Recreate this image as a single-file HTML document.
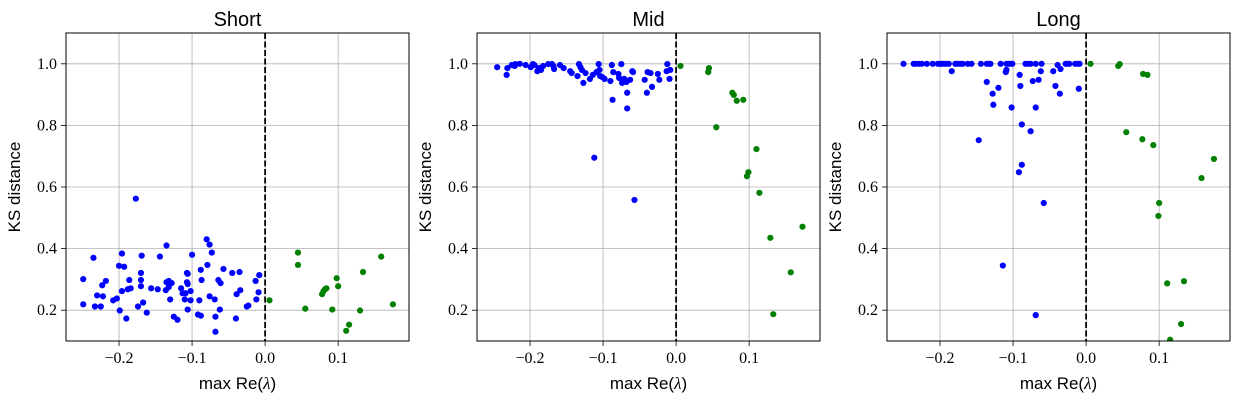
<!DOCTYPE html>
<html><head><meta charset="utf-8"><style>
body{margin:0;background:#fff;width:1239px;height:403px;overflow:hidden}
svg text{fill:#000}
</style></head><body>
<svg id="chart" width="1239" height="403" xmlns="http://www.w3.org/2000/svg"></svg>
<script>
const panelTitles = ["Short","Mid","Long"];
const xTicks = [-0.2,-0.1,0.0,0.1];
const xTickLabels = ["\u22120.2","\u22120.1","0.0","0.1"];
const yTicks = [0.2,0.4,0.6,0.8,1.0];
const yTickLabels = ["0.2","0.4","0.6","0.8","1.0"];

const shortBlueX = [-0.249,-0.249,-0.235,-0.233,-0.230,-0.225,-0.223,-0.222,-0.218,-0.208,-0.203,-0.200,-0.199,-0.196,-0.196,-0.193,-0.190,-0.188,-0.186,-0.184,-0.177,-0.174,-0.170,-0.170,-0.170,-0.169,-0.167,-0.162,-0.156,-0.147,-0.144,-0.136,-0.135,-0.135,-0.132,-0.132,-0.130,-0.128,-0.125,-0.120,-0.115,-0.113,-0.110,-0.109,-0.107,-0.107,-0.106,-0.106,-0.106,-0.102,-0.102,-0.100,-0.092,-0.090,-0.088,-0.088,-0.087,-0.080,-0.079,-0.076,-0.076,-0.073,-0.069,-0.068,-0.068,-0.064,-0.062,-0.061,-0.057,-0.045,-0.040,-0.039,-0.035,-0.034,-0.025,-0.023,-0.013,-0.012,-0.009,-0.008];
const shortBlueY = [0.301,0.219,0.370,0.212,0.248,0.212,0.281,0.245,0.295,0.232,0.238,0.344,0.199,0.384,0.262,0.341,0.173,0.268,0.298,0.271,0.562,0.212,0.321,0.298,0.278,0.377,0.225,0.192,0.271,0.268,0.374,0.265,0.410,0.291,0.295,0.275,0.235,0.288,0.179,0.169,0.271,0.255,0.235,0.255,0.321,0.291,0.318,0.285,0.202,0.262,0.232,0.380,0.186,0.232,0.182,0.331,0.298,0.430,0.347,0.413,0.245,0.387,0.235,0.179,0.130,0.298,0.202,0.288,0.334,0.321,0.173,0.252,0.324,0.265,0.212,0.215,0.295,0.235,0.258,0.314];
const shortGreenX = [0.006,0.045,0.045,0.055,0.078,0.080,0.082,0.084,0.092,0.098,0.100,0.111,0.115,0.130,0.134,0.159,0.175];
const shortGreenY = [0.232,0.387,0.347,0.205,0.252,0.262,0.268,0.271,0.202,0.304,0.278,0.133,0.153,0.199,0.324,0.374,0.219];

const midBlueX = [-0.245,-0.232,-0.231,-0.225,-0.221,-0.220,-0.214,-0.206,-0.199,-0.196,-0.194,-0.190,-0.188,-0.185,-0.182,-0.175,-0.170,-0.168,-0.167,-0.159,-0.154,-0.145,-0.143,-0.135,-0.133,-0.131,-0.129,-0.127,-0.124,-0.118,-0.114,-0.112,-0.109,-0.106,-0.105,-0.104,-0.101,-0.098,-0.090,-0.088,-0.087,-0.086,-0.079,-0.078,-0.075,-0.074,-0.071,-0.068,-0.067,-0.067,-0.063,-0.060,-0.059,-0.043,-0.040,-0.039,-0.035,-0.033,-0.025,-0.023,-0.013,-0.012,-0.009,-0.008,-0.057];
const midBlueY = [0.989,0.964,0.986,0.996,0.993,0.999,1.0,0.996,0.989,0.999,0.996,0.976,0.986,0.980,0.993,0.999,0.999,0.993,0.983,0.996,0.986,0.976,0.970,0.960,0.999,0.989,0.980,0.938,0.970,0.951,0.964,0.695,0.973,0.999,0.980,0.960,0.957,0.951,0.944,0.996,0.883,0.973,0.967,0.954,0.999,0.938,0.951,0.941,0.906,0.855,0.948,0.976,0.973,0.948,0.906,0.973,0.970,0.925,0.967,0.948,0.976,0.999,0.951,0.980,0.558];
const midGreenX = [0.006,0.045,0.044,0.077,0.079,0.083,0.092,0.055,0.110,0.099,0.097,0.114,0.173,0.129,0.157,0.133];
const midGreenY = [0.993,0.986,0.973,0.906,0.899,0.880,0.883,0.794,0.723,0.648,0.635,0.581,0.471,0.435,0.323,0.187];

const longBlueX = [-0.250,-0.236,-0.233,-0.229,-0.225,-0.218,-0.210,-0.203,-0.200,-0.198,-0.195,-0.192,-0.188,-0.179,-0.176,-0.172,-0.169,-0.162,-0.157,-0.144,-0.136,-0.133,-0.131,-0.117,-0.109,-0.106,-0.103,-0.101,-0.083,-0.079,-0.076,-0.069,-0.061,-0.028,-0.026,-0.023,-0.015,-0.012,-0.009,-0.184,-0.136,-0.128,-0.127,-0.120,-0.110,-0.109,-0.091,-0.090,-0.102,-0.073,-0.065,-0.069,-0.062,-0.045,-0.042,-0.039,-0.036,-0.035,-0.010,-0.088,-0.076,-0.147,-0.088,-0.092,-0.058,-0.114,-0.069];
const longBlueY = [1,1,1,1,1,1,1,1,1,1,1,1,1,1,1,1,1,1,1,1,1,1,1,1,1,1,1,1,1,1,1,1,1,1,1,1,1,1,1,0.976,0.941,0.903,0.867,0.922,0.973,0.980,0.964,0.928,0.858,0.944,0.948,0.858,0.976,0.976,0.928,0.996,0.903,0.983,0.919,0.803,0.781,0.752,0.672,0.648,0.548,0.345,0.184];
const longGreenX = [0.006,0.046,0.044,0.078,0.084,0.055,0.077,0.092,0.175,0.158,0.100,0.099,0.134,0.111,0.130,0.115];
const longGreenY = [1.0,0.999,0.993,0.967,0.964,0.778,0.755,0.736,0.691,0.629,0.548,0.506,0.294,0.287,0.155,0.104];

const blueX=[shortBlueX,midBlueX,longBlueX], blueY=[shortBlueY,midBlueY,longBlueY];
const greenX=[shortGreenX,midGreenX,longGreenX], greenY=[shortGreenY,midGreenY,longGreenY];

const NS="http://www.w3.org/2000/svg";
const svgEl=document.getElementById('chart');
function mk(tag,attrs,parent){const e=document.createElementNS(NS,tag);for(const k in attrs)e.setAttribute(k,attrs[k]);(parent||svgEl).appendChild(e);return e;}
const lefts=[66,477,887], W=343, topY=33, bottomY=341;
const xmin=-0.2726, xmax=0.197, ymin=0.1, ymax=1.1;
const defs=mk('defs',{});

panelTitles.forEach((title,p)=>{
  const L=lefts[p];
  const sx=v=>L+(v-xmin)/(xmax-xmin)*W;
  const sy=v=>bottomY-(v-ymin)/(ymax-ymin)*(bottomY-topY);
  const cp=mk('clipPath',{id:'clip'+p},defs);
  mk('rect',{x:L,y:topY,width:W,height:bottomY-topY},cp);
  const g=mk('g',{});
  
  
  xTicks.forEach((t,i)=>{
    const x=sx(t);
    const gl=mk('line',{x1:x,x2:x,y1:topY,y2:bottomY,stroke:'#b0b0b0','stroke-width':0.8},g);
    
    
    mk('line',{x1:x,x2:x,y1:bottomY,y2:bottomY+5,stroke:'#000','stroke-width':0.8},g);
    const tl=mk('text',{x:x,y:bottomY+22,'text-anchor':'middle','font-family':'Liberation Serif, serif','font-size':16},g);
    tl.textContent=xTickLabels[i];
    
    
  });
  yTicks.forEach((t,i)=>{
    const y=sy(t);
    const gl=mk('line',{x1:L,x2:L+W,y1:y,y2:y,stroke:'#b0b0b0','stroke-width':0.8},g);
    
    
    mk('line',{x1:L-5,x2:L,y1:y,y2:y,stroke:'#000','stroke-width':0.8},g);
    const tl=mk('text',{x:L-9,y:y+5,'text-anchor':'end','font-family':'Liberation Serif, serif','font-size':16},g);
    tl.textContent=yTickLabels[i];
    
    
  });
  const pts=mk('g',{'clip-path':'url(#clip'+p+')'},g);
  
  
  blueX[p].forEach((v,i)=>{
    const c=mk('circle',{cx:sx(v),cy:sy(blueY[p][i]),r:3.1,fill:'#0000ff'},pts);
    
    
  });
  greenX[p].forEach((v,i)=>{
    const c=mk('circle',{cx:sx(v),cy:sy(greenY[p][i]),r:3.1,fill:'#008000'},pts);
    
    
  });
  const zl=mk('line',{x1:sx(0),x2:sx(0),y1:topY,y2:bottomY,stroke:'#000','stroke-width':1.8,'stroke-dasharray':'6,2.5'},g);
  
  
  const fr=mk('rect',{x:L,y:topY,width:W,height:bottomY-topY,fill:'none',stroke:'#000','stroke-width':1},g);
  
  
  const tt=mk('text',{x:L+W/2,y:26,'text-anchor':'middle','font-family':'Liberation Sans, sans-serif','font-size':20},g);
  tt.textContent=title;
  
  
  const xl=mk('text',{x:L+W/2,y:389,'text-anchor':'middle','font-family':'Liberation Sans, sans-serif','font-size':17},g);
  xl.textContent='max Re(';
  const ts=mk('tspan',{'font-family':'Liberation Serif, serif','font-style':'italic'},xl);
  ts.textContent='\u03bb';
  const ts2=mk('tspan',{},xl);
  ts2.textContent=')';
  
  
  const yl=mk('text',{x:0,y:0,'text-anchor':'middle','font-family':'Liberation Sans, sans-serif','font-size':17,transform:'translate('+(L-46)+','+((topY+bottomY)/2)+') rotate(-90)'},g);
  yl.textContent='KS distance';
  
  
});
</script>
</body></html>
